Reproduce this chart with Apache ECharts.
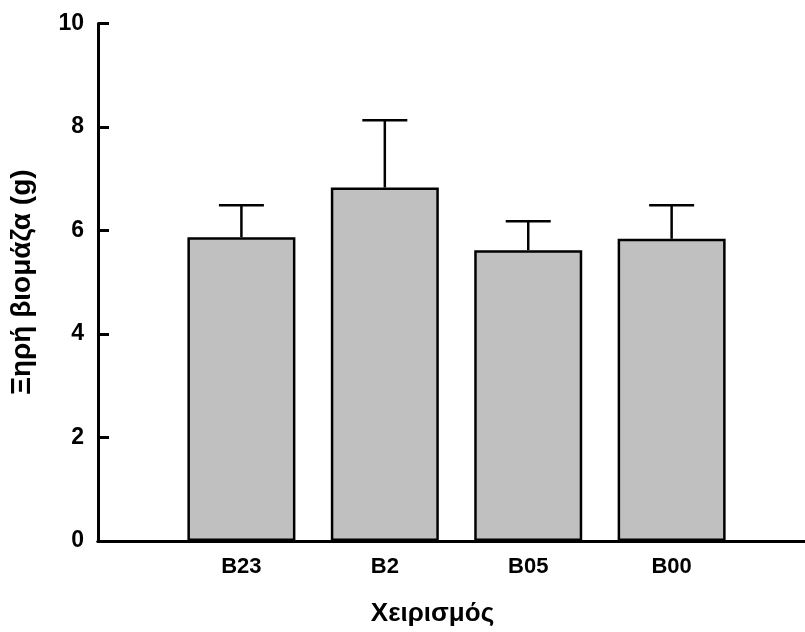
<!DOCTYPE html>
<html>
<head>
<meta charset="utf-8">
<script src="https://cdn.jsdelivr.net/npm/echarts@6/dist/echarts.min.js"></script>
<style>html,body{margin:0;padding:0;background:#fff;}#c{width:805px;height:632px;}</style>
</head>
<body>
<div id="c"></div>
<script>
const categories = ['B23', 'B2', 'B05', 'B00'];
const positions = [1, 2, 3, 4];
const means = [5.87, 6.83, 5.62, 5.84];
const errorTops = [6.49, 8.13, 6.18, 6.49];
const yTickValues = [0, 2, 4, 6, 8, 10];

const FONT = '"Liberation Sans", Arial, sans-serif';
const barData = positions.map((p, i) => [p, means[i]]);
const errData = positions.map((p, i) => [p, means[i], errorTops[i]]);

const chart = echarts.init(document.getElementById('c'), null, {renderer: 'canvas'});
chart.setOption({
  animation: false,
  backgroundColor: '#fff',
  grid: {left: 97, right: 0, top: 23.5, bottom: 91, containLabel: false},
  xAxis: [{
    type: 'value', min: 0, max: 4.93, interval: 1,
    name: 'Χειρισμός', nameLocation: 'middle', nameGap: 60,
    nameTextStyle: {fontFamily: FONT, fontWeight: 'bold', fontSize: 26, color: '#000', padding: [0, 38, 0, 0]},
    axisLine: {show: true, onZero: false, lineStyle: {color: '#000', width: 3}},
    axisTick: {show: false},
    splitLine: {show: false},
    axisLabel: {
      margin: 15, fontFamily: FONT, fontWeight: 'bold', fontSize: 22, color: '#000',
      showMinLabel: true, showMaxLabel: false,
      formatter: v => { const i = positions.indexOf(v); return i >= 0 ? categories[i] : ''; }
    }
  }, {
    type: 'value', position: 'top', min: 0, max: 4.93,
    axisLine: {show: true, lineStyle: {color: '#000', width: 3}},
    axisTick: {show: false}, axisLabel: {show: false}, splitLine: {show: false}
  }],
  yAxis: {
    type: 'value', min: 0, max: 10, interval: 2,
    name: 'Ξηρή βιομάζα (g)', nameLocation: 'middle', nameGap: 62, nameRotate: 90,
    nameTextStyle: {fontFamily: FONT, fontWeight: 'bold', fontSize: 28, color: '#000'},
    axisLine: {show: true, lineStyle: {color: '#000', width: 3}},
    axisTick: {show: true, inside: true, length: 11, lineStyle: {color: '#000', width: 3}},
    splitLine: {show: false},
    axisLabel: {margin: 14, fontFamily: FONT, fontWeight: 'bold', fontSize: 23, color: '#000',
      formatter: v => yTickValues.includes(v) ? String(v) : ''}
  },
  series: [{
    type: 'bar', data: barData, barWidth: 108,
    itemStyle: {color: '#c0c0c0', borderColor: '#000', borderWidth: 2.5},
    z: 2
  }, {
    type: 'custom', data: errData, z: 3,
    renderItem: (params, api) => {
      const x = api.value(0);
      const p0 = api.coord([x, api.value(1)]);
      const p1 = api.coord([x, api.value(2)]);
      const hw = 22.5;
      const style = {stroke: '#000', lineWidth: 2.5};
      return {type: 'group', children: [
        {type: 'line', shape: {x1: p0[0], y1: p0[1], x2: p1[0], y2: p1[1]}, style},
        {type: 'line', shape: {x1: p1[0] - hw, y1: p1[1], x2: p1[0] + hw, y2: p1[1]}, style}
      ]};
    }
  }]
});
</script>
</body>
</html>
